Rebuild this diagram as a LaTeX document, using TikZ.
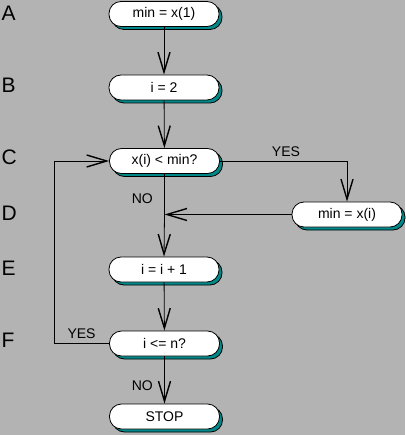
\documentclass[tikz,border=0pt]{standalone}
\usepackage{fontspec}
\setmainfont{Liberation Sans}
\usetikzlibrary{arrows.meta,shadows}

\definecolor{bggray}{RGB}{179,179,179}
\definecolor{shadeteal}{RGB}{0,136,136}

\begin{document}
\begin{tikzpicture}[x=1pt, y=-1pt, line width=0.8pt,
        font = \fontsize{14}{16}\selectfont,
        box/.style = {draw, fill=white, rounded corners=12pt, minimum width=110pt, minimum height=25pt, inner sep=0pt,
            drop shadow={shadow xshift=3pt, shadow yshift=-3pt, fill=shadeteal, draw=black, opacity=1}},
        flow/.style = {-{Straight Barb[length=20pt, width=12pt, line width=1.4pt]}},
        row/.style = {font = \fontsize{21}{24}\selectfont, anchor=west}]
        \fill[bggray] (0,0) rectangle (405,435);
        \useasboundingbox (0,0) rectangle (405,435);
        
        % row letters
        \node[row] (la) at (-2,13) {A};
        \node[row] (lb) at (-2,85) {B};
        \node[row] (lc) at (-2,157) {C};
        \node[row] (ld) at (-2,213) {D};
        \node[row] (le) at (-2,268) {E};
        \node[row] (lf) at (-2,340) {F};
        
        % boxes
        \node[box] (init) at (164,14) {min = x(1)};
        \node[box] (start) at (164,87.5) {i = 2};
        \node[box] (test) at (164.5,161) {x(i) < min?};
        \node[box] (swap) at (347,214.5) {min = x(i)};
        \node[box] (incr) at (164,269.5) {i = i + 1};
        \node[box] (loop) at (164.5,343.5) {i <= n?};
        \node[box] (stop) at (164.5,416.5) {STOP};
        
        \coordinate (join) at (test.south |- swap.west);
        \coordinate (turn) at (54,0);
        
        \draw[flow] (init) -- (start);
        \draw[flow] (start) -- (test);
        \draw[flow] (test.east) -| node[pos=0.26, above=1pt]{YES} (swap.north);
        \draw (test.south) -- node[pos=0.6, left=8pt]{NO} (join);
        \draw[flow] (swap.west) -- (join);
        \draw[flow] (join) -- (incr.north);
        \draw[flow] (incr) -- (loop);
        \draw[flow] (loop) -- node[pos=0.62, left=8pt]{NO} (stop);
        \draw[flow] (loop.west) -- node[above=1pt]{YES} (turn |- loop.west) -- (turn |- test.west) -- (test.west);
\end{tikzpicture}
\end{document}
